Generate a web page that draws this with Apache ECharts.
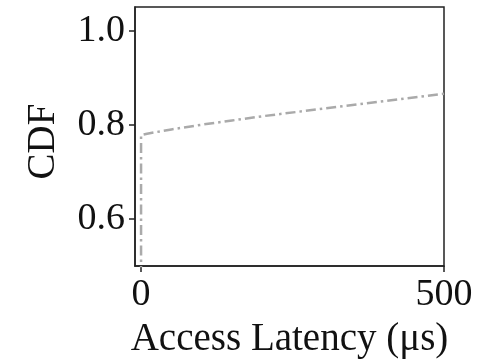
<!DOCTYPE html>
<html><head><meta charset="utf-8">
<script src="https://cdn.jsdelivr.net/npm/echarts@6/dist/echarts.min.js"></script>
<style>html,body{margin:0;padding:0;background:#fff}#c{width:501px;height:360px}</style>
</head><body><div id="c"></div>
<script>
const latency = [0, 0, 10, 50, 100, 150, 200, 300, 400, 500];
const cdf = [0.0, 0.778, 0.781, 0.790, 0.800, 0.809, 0.818, 0.834, 0.850, 0.866];
const xTicks = [0, 500];
const yTicks = [0.6, 0.8, 1.0];
const xTitle = 'Access Latency (μs)';
const yTitle = 'CDF';

const font = 'Liberation Serif';
const chart = echarts.init(document.getElementById('c'), null, {renderer: 'canvas'});
chart.setOption({
  animation: false,
  grid: {left: 135, right: 57, top: 7, bottom: 94, show: true, borderColor: '#222', borderWidth: 1.5, containLabel: false, outerBoundsMode: 'none'},
  xAxis: {
    type: 'value', min: -10, max: 500,
    name: xTitle, nameLocation: 'middle', nameGap: 54,
    nameTextStyle: {fontFamily: font, fontSize: 39, color: '#111'},
    axisLine: {show: true, onZero: false, lineStyle: {color: '#222', width: 1.5}},
    axisTick: {show: true, length: 6, inside: false, customValues: xTicks, lineStyle: {color: '#222', width: 1.5}},
    axisLabel: {customValues: xTicks, fontFamily: font, fontSize: 38, color: '#111', margin: 10, formatter: v => String(v)},
    splitLine: {show: false}
  },
  yAxis: {
    type: 'value', min: 0.5, max: 1.05,
    name: yTitle, nameLocation: 'middle', nameGap: 72, nameRotate: 90,
    nameTextStyle: {fontFamily: font, fontSize: 39, color: '#111', padding: [0, 10, 0, 0]},
    axisLine: {show: true, onZero: false, lineStyle: {color: '#222', width: 1.5}},
    axisTick: {show: true, length: 6, inside: false, customValues: yTicks, lineStyle: {color: '#222', width: 1.5}},
    axisLabel: {customValues: yTicks, fontFamily: font, fontSize: 38, color: '#111', margin: 10, formatter: v => v.toFixed(1)},
    splitLine: {show: false}
  },
  series: [{
    type: 'line',
    data: latency.map((x, i) => [x, cdf[i]]),
    showSymbol: false, symbol: 'none', clip: true,
    lineStyle: {color: '#aaaaaa', width: 2.5, type: [10, 4, 2.5, 4]}
  }]
});
</script></body></html>
